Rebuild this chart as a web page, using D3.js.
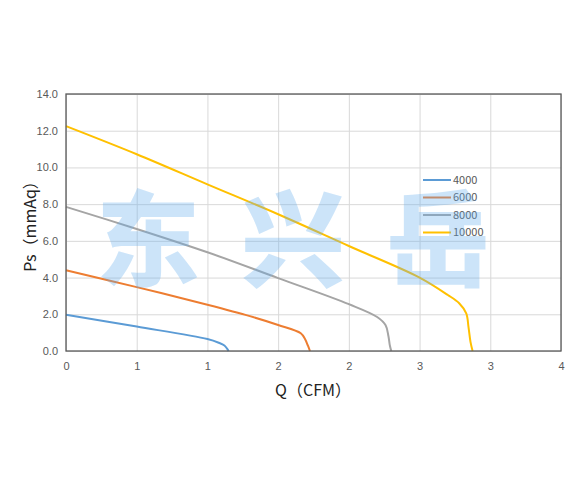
<!DOCTYPE html>
<html>
<head>
<meta charset="utf-8">
<script src="https://cdn.jsdelivr.net/npm/d3@7"></script>
<style>
  body { margin: 0; background: #fff; }
  svg { display: block; font-family: "Noto Sans CJK SC", "DejaVu Sans", sans-serif; }
  .tick text { fill: #595959; font-size: 11px; }
</style>
</head>
<body>
<svg id="chart" width="585" height="480"></svg>
<script>
// speeds (rpm) and their PQ curves, [Q (CFM), Ps (mmAq)]
var speeds = ["4000", "6000", "8000", "10000"];
var colors = ["#5B9BD5", "#ED7D31", "#A5A5A5", "#FFC000"];
var curve4000 = [[0, 1.97], [0.5, 1.33], [1.0, 0.65], [1.08, 0.45], [1.12, 0.3], [1.14, 0.12], [1.15, 0]];
var curve6000 = [[0, 4.4], [0.5, 3.48], [1.0, 2.52], [1.3, 1.9], [1.5, 1.42], [1.66, 0.97], [1.69, 0.65], [1.71, 0.3], [1.725, 0]];
var curve8000 = [[0, 7.85], [0.5, 6.65], [1.0, 5.38], [1.5, 3.97], [2.0, 2.55], [2.2, 1.85], [2.26, 1.4], [2.28, 0.8], [2.29, 0.3], [2.3, 0]];
var curve10000 = [[0, 12.25], [0.5, 10.72], [1.0, 9.08], [1.5, 7.45], [2.0, 5.72], [2.5, 4.0], [2.7, 3.05], [2.78, 2.6], [2.83, 2.05], [2.846, 1.3], [2.86, 0.5], [2.875, 0]];
var curves = [curve4000, curve6000, curve8000, curve10000];

var xTicks = [0, 0.5, 1, 1.5, 2, 2.5, 3, 3.5];
var xTickLabels = ["0", "1", "1", "2", "2", "3", "3", "4"];
var yTicks = [0, 2, 4, 6, 8, 10, 12, 14];
var watermark = ["东", "兴", "岳"];

var svg = d3.select("#chart"),
    margin = {top: 94, right: 24, bottom: 129, left: 66},
    width = 585 - margin.left - margin.right,
    height = 480 - margin.top - margin.bottom,
    g = svg.append("g").attr("transform", "translate(" + margin.left + "," + margin.top + ")");

var x = d3.scaleLinear().domain([0, 3.5]).range([0, width]);
var y = d3.scaleLinear().domain([0, 14]).range([height, 0]);

// gridlines
g.append("g")
    .attr("class", "grid")
    .attr("transform", "translate(0," + height + ")")
    .call(d3.axisBottom(x).tickValues(xTicks).tickSize(-height).tickFormat(""))
    .call(function (s) { s.select(".domain").remove(); s.selectAll("line").attr("stroke", "#d9d9d9"); });
g.append("g")
    .attr("class", "grid")
    .call(d3.axisLeft(y).tickValues(yTicks).tickSize(-width).tickFormat(""))
    .call(function (s) { s.select(".domain").remove(); s.selectAll("line").attr("stroke", "#d9d9d9"); });

// axes labels
g.append("g")
    .attr("transform", "translate(0," + height + ")")
    .call(d3.axisBottom(x).tickValues(xTicks).tickSize(0).tickPadding(11)
        .tickFormat(function (d, i) { return xTickLabels[i]; }))
    .call(function (s) { s.select(".domain").remove(); });
g.append("g")
    .call(d3.axisLeft(y).tickValues(yTicks).tickSize(0).tickPadding(8).tickFormat(d3.format(".1f")))
    .call(function (s) { s.select(".domain").remove(); });

// curves
var line = d3.line()
    .x(function (d) { return x(d[0]); })
    .y(function (d) { return y(d[1]); })
    .curve(d3.curveCatmullRom.alpha(0.5));

g.selectAll(".pq")
    .data(curves)
    .enter().append("path")
    .attr("class", "pq")
    .attr("fill", "none")
    .attr("stroke-width", 2)
    .attr("stroke", function (d, i) { return colors[i]; })
    .attr("d", line);

// frame
g.append("rect")
    .attr("width", width).attr("height", height)
    .attr("fill", "none").attr("stroke", "#595959").attr("stroke-width", 1.3);

// legend
var legend = g.selectAll(".legend")
    .data(speeds)
    .enter().append("g")
    .attr("class", "legend")
    .attr("transform", function (d, i) { return "translate(357," + (86 + i * 17.5) + ")"; });
legend.append("line")
    .attr("x1", 0).attr("x2", 28)
    .attr("stroke-width", 2)
    .attr("stroke", function (d, i) { return colors[i]; });
legend.append("text")
    .attr("x", 30).attr("dy", "0.35em")
    .attr("fill", "#595959").style("font-size", "11px")
    .text(function (d) { return d; });

// axis titles
svg.append("text")
    .attr("x", 313).attr("y", 396)
    .attr("text-anchor", "middle")
    .style("font-size", "16px").attr("fill", "#222")
    .text("Q（CFM）");
svg.append("text")
    .attr("transform", "translate(36," + (margin.top + height / 2) + ") rotate(-90)")
    .attr("text-anchor", "middle")
    .style("font-size", "16px").attr("fill", "#222")
    .text("Ps（mmAq）");

// watermark on top
svg.selectAll(".wm")
    .data(watermark)
    .enter().append("text")
    .attr("class", "wm")
    .attr("x", function (d, i) { return 148 + i * 145; })
    .attr("y", 279)
    .attr("text-anchor", "middle")
    .style("font-size", "104px").style("font-weight", "900")
    .attr("fill", "rgb(100,172,238)").attr("fill-opacity", 0.33)
    .text(function (d) { return d; });
</script>
</body>
</html>
